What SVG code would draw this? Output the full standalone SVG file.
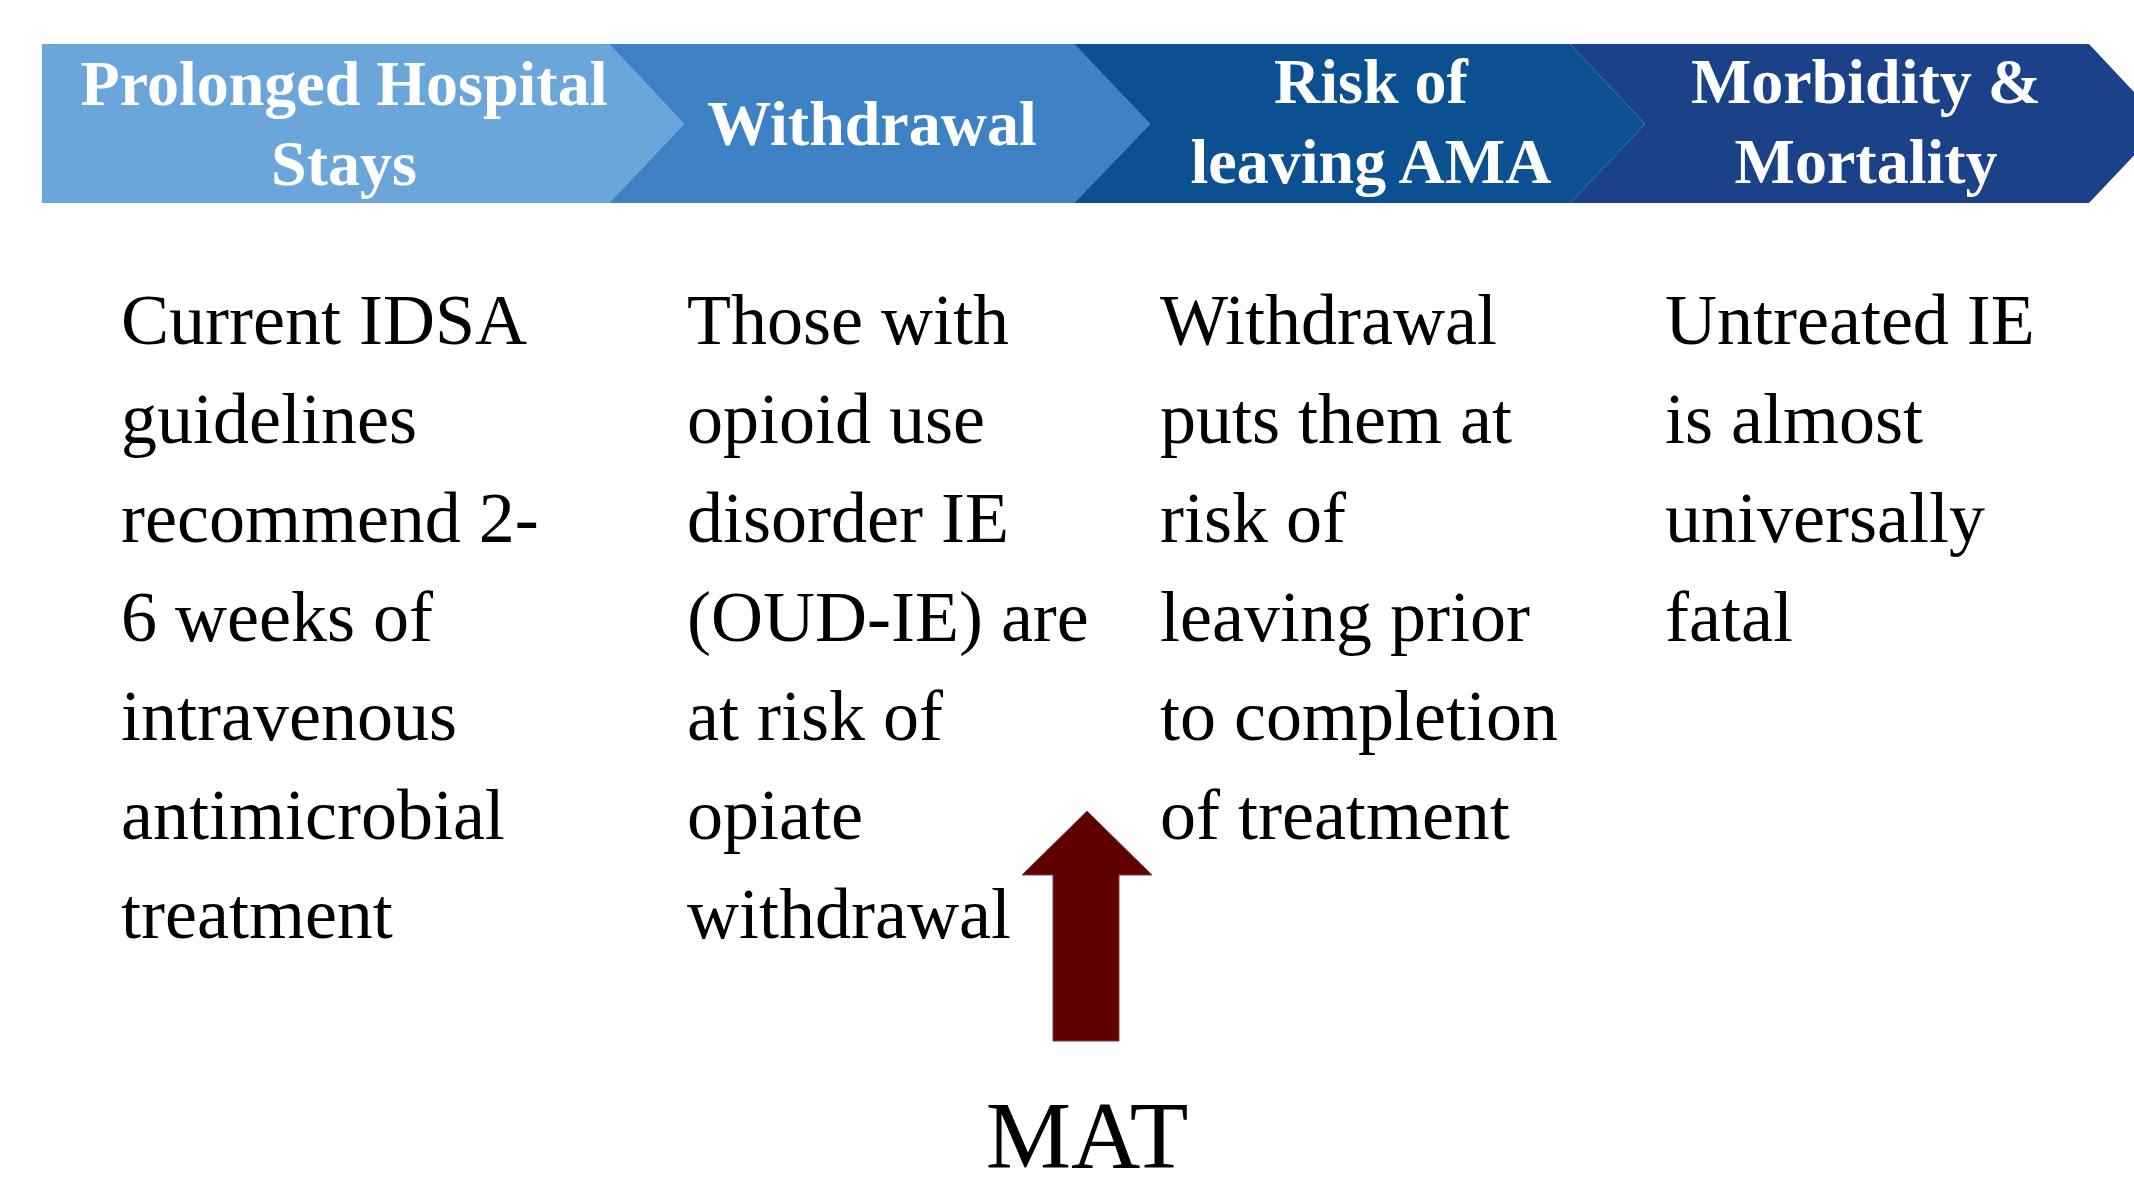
<svg xmlns="http://www.w3.org/2000/svg" width="2134" height="1177" viewBox="0 0 2134 1177">
<style>
.hd{font-family:"Liberation Serif","Times New Roman",serif;font-weight:bold;font-size:64px;fill:#ffffff;text-anchor:middle}
.bd{font-family:"Liberation Serif","Times New Roman",serif;font-size:72px;fill:#000000}
.mat{font-family:"Liberation Serif","Times New Roman",serif;font-size:96px;fill:#000000;text-anchor:middle}
</style>
<rect width="2134" height="1177" fill="#ffffff"/>
<g id="step1">
<polygon points="42,44 609,44 684,124 609,203 42,203" fill="#6AA6DA"/>
<text class="hd" x="344" y="105">Prolonged Hospital</text>
<text class="hd" x="344" y="185">Stays</text>
</g>
<g id="step2">
<polygon points="609,44 1074,44 1150,124 1074,203 609,203 684,124" fill="#3C82C4"/>
<text class="hd" x="872" y="145">Withdrawal</text>
</g>
<g id="step3">
<polygon points="1074,44 1570,44 1645,124 1570,203 1074,203 1150,124" fill="#0B5192"/>
<text class="hd" x="1371" y="103">Risk of</text>
<text class="hd" x="1371" y="183">leaving AMA</text>
</g>
<g id="step4">
<polygon points="1570,44 2089,44 2164,124 2089,203 1570,203 1645,124" fill="#1B4289"/>
<text class="hd" x="1866" y="103">Morbidity &amp;</text>
<text class="hd" x="1866" y="183">Mortality</text>
</g>
<g id="text1" class="bd">
<text x="121" y="344">Current IDSA</text>
<text x="121" y="443">guidelines</text>
<text x="121" y="542">recommend 2-</text>
<text x="121" y="641">6 weeks of</text>
<text x="121" y="740">intravenous</text>
<text x="121" y="839">antimicrobial</text>
<text x="121" y="938">treatment</text>
</g>
<g id="text2" class="bd">
<text x="687" y="344">Those with</text>
<text x="687" y="443">opioid use</text>
<text x="687" y="542">disorder IE</text>
<text x="687" y="641">(OUD-IE) are</text>
<text x="687" y="740">at risk of</text>
<text x="687" y="839">opiate</text>
<text x="687" y="938">withdrawal</text>
</g>
<g id="text3" class="bd">
<text x="1160" y="344">Withdrawal</text>
<text x="1160" y="443">puts them at</text>
<text x="1160" y="542">risk of</text>
<text x="1160" y="641">leaving prior</text>
<text x="1160" y="740">to completion</text>
<text x="1160" y="839">of treatment</text>
</g>
<g id="text4" class="bd">
<text x="1665" y="344">Untreated IE</text>
<text x="1665" y="443">is almost</text>
<text x="1665" y="542">universally</text>
<text x="1665" y="641">fatal</text>
</g>
<g id="connectors">
<polygon points="1087,811 1152,875 1119,875 1119,1041 1053,1041 1053,875 1022,875" fill="#5E0000" stroke="#8a3a3a" stroke-width="1"/>
</g>
<g id="mat">
<text class="mat" x="1087" y="1168">MAT</text>
</g>
</svg>
